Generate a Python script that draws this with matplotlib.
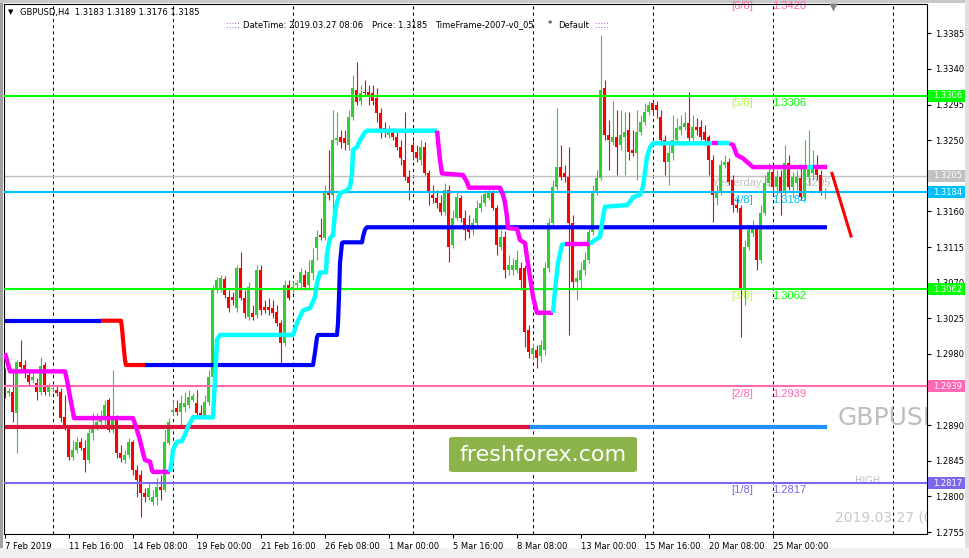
import numpy as np
import matplotlib.pyplot as plt
import matplotlib.transforms as mtransforms
from matplotlib.patches import Rectangle, FancyBboxPatch

# GBPUSD H4 bars, 7 Feb 2019 00:00 .. 27 Mar 2019 08:00
opens = [
    1.2956, 1.2931, 1.2932, 1.2905, 1.2970, 1.2966, 1.2953, 1.2947, 1.2943, 1.2932,
    1.2966, 1.2932, 1.2936, 1.2934, 1.2932, 1.2900, 1.2885, 1.2850, 1.2859, 1.2869,
    1.2861, 1.2846, 1.2880, 1.2890, 1.2894, 1.2897, 1.2922, 1.2884, 1.2897, 1.2855,
    1.2846, 1.2852, 1.2869, 1.2833, 1.2827, 1.2804, 1.2799, 1.2793, 1.2799, 1.2812,
    1.2808, 1.2868, 1.2907, 1.2912, 1.2907, 1.2913, 1.2916, 1.2922, 1.2918, 1.2905,
    1.2903, 1.2919, 1.2951, 1.3061, 1.3061, 1.3075, 1.3052, 1.3052, 1.3038, 1.3089,
    1.3051, 1.3027, 1.3032, 1.3029, 1.3086, 1.3039, 1.3039, 1.3038, 1.3033, 1.3019,
    1.2994, 1.3067, 1.3061, 1.3067, 1.3070, 1.3080, 1.3067, 1.3082, 1.3114, 1.3130,
    1.3126, 1.3183, 1.3181, 1.3250, 1.3254, 1.3253, 1.3244, 1.3279, 1.3313, 1.3300,
    1.3311, 1.3311, 1.3310, 1.3303, 1.3284, 1.3265, 1.3256, 1.3259, 1.3254, 1.3241,
    1.3225, 1.3203, 1.3244, 1.3235, 1.3225, 1.3241, 1.3208, 1.3181, 1.3177, 1.3171,
    1.3159, 1.3187, 1.3118, 1.3152, 1.3177, 1.3152, 1.3143, 1.3137, 1.3145, 1.3164,
    1.3171, 1.3177, 1.3183, 1.3164, 1.3115, 1.3128, 1.3086, 1.3086, 1.3086, 1.3089,
    1.3089, 1.3010, 1.2980, 1.2985, 1.2977, 1.2985, 1.3089, 1.3145, 1.3191, 1.3216,
    1.3208, 1.3203, 1.3145, 1.3071, 1.3073, 1.3086, 1.3099, 1.3134, 1.3185, 1.3202,
    1.3316, 1.3256, 1.3248, 1.3254, 1.3244, 1.3254, 1.3263, 1.3238, 1.3234, 1.3260,
    1.3273, 1.3286, 1.3297, 1.3294, 1.3279, 1.3250, 1.3222, 1.3234, 1.3250, 1.3263,
    1.3267, 1.3272, 1.3253, 1.3267, 1.3267, 1.3260, 1.3254, 1.3225, 1.3177, 1.3183,
    1.3219, 1.3222, 1.3200, 1.3168, 1.3164, 1.3061, 1.3115, 1.3133, 1.3139, 1.3099,
    1.3158, 1.3196, 1.3210, 1.3191, 1.3203, 1.3183, 1.3221, 1.3191, 1.3196, 1.3202,
    1.3178, 1.3203, 1.3208, 1.3216, 1.3206, 1.3183,
]
highs = [
    1.2962, 1.2937, 1.2956, 1.2972, 1.2998, 1.2972, 1.2960, 1.2956, 1.2950, 1.2976,
    1.2970, 1.2943, 1.2942, 1.2939, 1.2937, 1.2928, 1.2890, 1.2871, 1.2875, 1.2874,
    1.2871, 1.2886, 1.2905, 1.2905, 1.2909, 1.2922, 1.2924, 1.2960, 1.2903, 1.2865,
    1.2859, 1.2874, 1.2871, 1.2840, 1.2833, 1.2811, 1.2818, 1.2808, 1.2823, 1.2827,
    1.2884, 1.2899, 1.2922, 1.2922, 1.2928, 1.2932, 1.2934, 1.2931, 1.2934, 1.2916,
    1.2928, 1.2960, 1.3067, 1.3077, 1.3080, 1.3078, 1.3061, 1.3058, 1.3092, 1.3109,
    1.3061, 1.3071, 1.3042, 1.3092, 1.3092, 1.3048, 1.3051, 1.3048, 1.3042, 1.3023,
    1.3073, 1.3073, 1.3071, 1.3073, 1.3089, 1.3086, 1.3099, 1.3114, 1.3137, 1.3152,
    1.3193, 1.3238, 1.3288, 1.3286, 1.3263, 1.3263, 1.3288, 1.3332, 1.3349, 1.3320,
    1.3326, 1.3320, 1.3320, 1.3316, 1.3291, 1.3273, 1.3269, 1.3265, 1.3263, 1.3250,
    1.3286, 1.3212, 1.3250, 1.3244, 1.3250, 1.3248, 1.3212, 1.3193, 1.3187, 1.3181,
    1.3196, 1.3193, 1.3162, 1.3187, 1.3181, 1.3162, 1.3155, 1.3152, 1.3174, 1.3181,
    1.3187, 1.3190, 1.3187, 1.3168, 1.3137, 1.3135, 1.3105, 1.3101, 1.3111, 1.3096,
    1.3092, 1.3017, 1.2994, 1.2991, 1.2998, 1.3096, 1.3152, 1.3200, 1.3291, 1.3244,
    1.3219, 1.3241, 1.3155, 1.3086, 1.3096, 1.3109, 1.3143, 1.3193, 1.3212, 1.3383,
    1.3326, 1.3275, 1.3300, 1.3288, 1.3288, 1.3286, 1.3286, 1.3263, 1.3288, 1.3282,
    1.3297, 1.3300, 1.3300, 1.3300, 1.3288, 1.3256, 1.3244, 1.3282, 1.3278, 1.3282,
    1.3286, 1.3311, 1.3282, 1.3278, 1.3275, 1.3269, 1.3256, 1.3231, 1.3193, 1.3225,
    1.3231, 1.3227, 1.3206, 1.3177, 1.3168, 1.3124, 1.3143, 1.3149, 1.3143, 1.3168,
    1.3206, 1.3221, 1.3215, 1.3212, 1.3212, 1.3244, 1.3231, 1.3210, 1.3212, 1.3219,
    1.3250, 1.3263, 1.3238, 1.3231, 1.3212, 1.3189,
]
lows = [
    1.2924, 1.2927, 1.2894, 1.2855, 1.2957, 1.2950, 1.2941, 1.2943, 1.2922, 1.2928,
    1.2928, 1.2927, 1.2932, 1.2927, 1.2894, 1.2884, 1.2846, 1.2846, 1.2855, 1.2859,
    1.2831, 1.2842, 1.2871, 1.2884, 1.2886, 1.2890, 1.2881, 1.2880, 1.2849, 1.2844,
    1.2842, 1.2849, 1.2827, 1.2799, 1.2774, 1.2793, 1.2796, 1.2789, 1.2789, 1.2796,
    1.2806, 1.2865, 1.2903, 1.2903, 1.2890, 1.2907, 1.2912, 1.2919, 1.2902, 1.2899,
    1.2900, 1.2916, 1.2947, 1.3057, 1.3058, 1.3051, 1.3033, 1.3042, 1.3033, 1.3048,
    1.3025, 1.3023, 1.3023, 1.3025, 1.3029, 1.3032, 1.3029, 1.3025, 1.3015, 1.2969,
    1.2990, 1.3048, 1.3057, 1.3063, 1.3061, 1.3061, 1.3061, 1.3073, 1.3099, 1.3124,
    1.3124, 1.3174, 1.3137, 1.3244, 1.3240, 1.3238, 1.3238, 1.3275, 1.3294, 1.3294,
    1.3306, 1.3294, 1.3294, 1.3273, 1.3253, 1.3254, 1.3253, 1.3250, 1.3238, 1.3219,
    1.3200, 1.3174, 1.3225, 1.3222, 1.3219, 1.3206, 1.3168, 1.3171, 1.3164, 1.3155,
    1.3155, 1.3096, 1.3114, 1.3149, 1.3147, 1.3124, 1.3126, 1.3130, 1.3139, 1.3159,
    1.3167, 1.3174, 1.3162, 1.3105, 1.3111, 1.3076, 1.3080, 1.3080, 1.3082, 1.3061,
    1.2989, 1.2975, 1.2972, 1.2962, 1.2970, 1.2979, 1.3083, 1.3142, 1.3187, 1.3200,
    1.3197, 1.3004, 1.3061, 1.3048, 1.3063, 1.3080, 1.3095, 1.3130, 1.3181, 1.3200,
    1.3250, 1.3212, 1.3244, 1.3206, 1.3238, 1.3206, 1.3225, 1.3230, 1.3200, 1.3256,
    1.3269, 1.3282, 1.3282, 1.3278, 1.3244, 1.3206, 1.3193, 1.3225, 1.3244, 1.3256,
    1.3263, 1.3248, 1.3250, 1.3256, 1.3250, 1.3244, 1.3206, 1.3147, 1.3168, 1.3181,
    1.3215, 1.3193, 1.3159, 1.3159, 1.3001, 1.3042, 1.3111, 1.3128, 1.3086, 1.3095,
    1.3155, 1.3192, 1.3181, 1.3181, 1.3155, 1.3181, 1.3187, 1.3177, 1.3187, 1.3174,
    1.3174, 1.3193, 1.3200, 1.3200, 1.3181, 1.3176,
]
closes = [
    1.2931, 1.2933, 1.2907, 1.2970, 1.2963, 1.2957, 1.2945, 1.2951, 1.2932, 1.2965,
    1.2932, 1.2938, 1.2937, 1.2931, 1.2899, 1.2890, 1.2850, 1.2859, 1.2869, 1.2861,
    1.2846, 1.2880, 1.2886, 1.2894, 1.2900, 1.2916, 1.2884, 1.2897, 1.2855, 1.2849,
    1.2852, 1.2869, 1.2833, 1.2821, 1.2804, 1.2799, 1.2811, 1.2799, 1.2812, 1.2808,
    1.2869, 1.2894, 1.2909, 1.2907, 1.2918, 1.2918, 1.2926, 1.2927, 1.2905, 1.2903,
    1.2919, 1.2951, 1.3061, 1.3073, 1.3076, 1.3054, 1.3038, 1.3048, 1.3089, 1.3051,
    1.3032, 1.3065, 1.3027, 1.3086, 1.3035, 1.3035, 1.3035, 1.3032, 1.3019, 1.2994,
    1.3067, 1.3051, 1.3065, 1.3070, 1.3083, 1.3065, 1.3083, 1.3099, 1.3128, 1.3128,
    1.3183, 1.3181, 1.3250, 1.3253, 1.3248, 1.3246, 1.3279, 1.3316, 1.3298, 1.3310,
    1.3310, 1.3304, 1.3300, 1.3284, 1.3263, 1.3260, 1.3263, 1.3254, 1.3241, 1.3227,
    1.3203, 1.3196, 1.3235, 1.3227, 1.3241, 1.3208, 1.3183, 1.3177, 1.3171, 1.3159,
    1.3187, 1.3115, 1.3152, 1.3178, 1.3152, 1.3137, 1.3134, 1.3145, 1.3164, 1.3171,
    1.3182, 1.3183, 1.3164, 1.3118, 1.3128, 1.3086, 1.3092, 1.3092, 1.3099, 1.3073,
    1.3008, 1.2982, 1.2987, 1.2975, 1.2991, 1.3089, 1.3145, 1.3191, 1.3216, 1.3203,
    1.3203, 1.3145, 1.3071, 1.3076, 1.3086, 1.3099, 1.3134, 1.3185, 1.3202, 1.3313,
    1.3256, 1.3250, 1.3254, 1.3241, 1.3256, 1.3260, 1.3235, 1.3234, 1.3260, 1.3273,
    1.3286, 1.3294, 1.3288, 1.3288, 1.3250, 1.3222, 1.3234, 1.3250, 1.3265, 1.3268,
    1.3272, 1.3253, 1.3267, 1.3263, 1.3254, 1.3250, 1.3225, 1.3181, 1.3183, 1.3219,
    1.3222, 1.3197, 1.3168, 1.3164, 1.3061, 1.3115, 1.3137, 1.3139, 1.3099, 1.3158,
    1.3196, 1.3210, 1.3191, 1.3203, 1.3183, 1.3221, 1.3191, 1.3203, 1.3203, 1.3178,
    1.3216, 1.3219, 1.3216, 1.3206, 1.3183, 1.3185,
]

date_labels = ["7 Feb 2019", "11 Feb 16:00", "14 Feb 08:00", "19 Feb 00:00",
               "21 Feb 16:00", "26 Feb 08:00", "1 Mar 00:00", "5 Mar 16:00",
               "8 Mar 08:00", "13 Mar 00:00", "15 Mar 16:00", "20 Mar 08:00",
               "25 Mar 00:00"]
date_label_bars = [0, 16, 32, 48, 64, 80, 96, 112, 128, 144, 160, 176, 192]
week_start_bars = [12, 42, 72, 102, 132, 162, 192, 222]

price_ticks = [1.2755, 1.2800, 1.2845, 1.2890, 1.2935, 1.2980, 1.3025, 1.3070,
               1.3115, 1.3160, 1.3205, 1.3250, 1.3295, 1.3340, 1.3385]
# these two sit right under the coloured price boxes
hidden_ticks = [1.2935, 1.3205]

# Murrey math levels
mm_levels = [1.3428, 1.3306, 1.3184, 1.3062, 1.2939, 1.2817]
mm_names = ["[6/8]", "[5/8]", "[4/8]", "[3/8]", "[2/8]", "[1/8]"]
mm_colors = ["#FF69B4", "#00FF00", "#00BFFF", "#00FF00", "#FF69B4", "#7B68EE"]
mm_name_colors = ["#FF69B4", "#ADFF2F", "#00BFFF", "#ADFF2F", "#FF69B4", "#7B68EE"]
yesterday_close = 1.3205

# price boxes on the right scale
box_vals = [1.3306, 1.3205, 1.3184, 1.3062, 1.2939, 1.2817]
box_colors = ["#00FF00", "#C0C0C0", "#00BFFF", "#00FF00", "#FF69B4", "#7B68EE"]

# blue / red stop line (code = colour of segment ending at the point)
stop_bars = [0, 24, 29, 29.25, 29.5, 29.75, 30, 30.25, 35, 77, 77.5, 78, 78.25,
             83, 83.25, 83.5, 83.75, 84.25, 84.5, 89.25, 89.5, 90, 90.5, 205.5]
stop_vals = [1.3022, 1.3022, 1.3022, 1.3013, 1.2998, 1.2985, 1.2972, 1.2966, 1.2966,
             1.2966, 1.2982, 1.3001, 1.3004, 1.3004, 1.3019, 1.3052, 1.3095, 1.3120,
             1.3121, 1.3121, 1.3128, 1.3137, 1.3140, 1.3140]
stop_codes = "-brrrrrrrbbbbbbbbbbbbbbb"

# magenta / cyan trailing line
mc_bars = [0, 1.25, 15, 15.5, 16.25, 16.75, 17.25, 32, 33, 33.75, 34.5, 35, 36.25, 36.75,
           37, 41.25, 41.75, 42, 43, 44.25, 45, 45.75, 47, 52, 52.5, 53, 53.75, 72, 73,
           74.5, 76.25, 77.5, 78, 78.75, 80.25, 80.5, 81.25, 82, 82.5, 83, 83.75, 85.5,
           86.25, 86.75, 87, 88, 88.75, 90, 90.5, 108, 108.75, 109.25, 114.5, 115.5, 116,
           123.75, 124.5, 125, 125.5, 125.75, 128, 128.75, 130, 130.5, 131.75, 132, 133,
           137, 137.5, 138.25, 139.25, 140, 146.25, 147.5, 148.75, 149.5, 150, 155.5,
           156.25, 157, 158.75, 159.5, 160.5, 161.25, 162, 176.75, 178.25, 181.25, 182,
           183, 184.5, 187, 200.5, 202, 205.5]
mc_vals = [1.2981, 1.2958, 1.2958, 1.2947, 1.2926, 1.2913, 1.2899, 1.2899, 1.2884, 1.2871,
           1.2855, 1.2846, 1.2844, 1.2833, 1.2831, 1.2831, 1.2846, 1.2859, 1.2869, 1.2870,
           1.2878, 1.2888, 1.2900, 1.2900, 1.2947, 1.2998, 1.3004, 1.3004, 1.3019, 1.3035,
           1.3038, 1.3052, 1.3070, 1.3083, 1.3083, 1.3107, 1.3126, 1.3130, 1.3158, 1.3172,
           1.3183, 1.3187, 1.3191, 1.3208, 1.3238, 1.3241, 1.3250, 1.3260, 1.3262, 1.3262,
           1.3225, 1.3208, 1.3206, 1.3197, 1.3190, 1.3190, 1.3181, 1.3171, 1.3153, 1.3139,
           1.3138, 1.3124, 1.3120, 1.3102, 1.3061, 1.3052, 1.3032, 1.3032, 1.3061, 1.3095,
           1.3118, 1.3119, 1.3119, 1.3124, 1.3128, 1.3153, 1.3166, 1.3168, 1.3172, 1.3178,
           1.3181, 1.3191, 1.3229, 1.3241, 1.3246, 1.3246, 1.3246, 1.3246, 1.3244, 1.3231,
           1.3227, 1.3216, 1.3216, 1.3216, 1.3216]
mc_codes = ("-" + "m" * 15 + "c" * 34 + "m" * 18 + "c" * 4 + "m" + "c" * 13
            + "m" + "c" + "m" * 5 + "c" + "m")

level_line = 1.2888
level_split_bar = 131.25
level_end_bar = 205.5

arrow_bars = [206.75, 211.5]
arrow_vals = [1.3208, 1.3129]

assert len(opens) == len(highs) == len(lows) == len(closes)
assert len(stop_bars) == len(stop_vals) == len(stop_codes)
assert len(mc_bars) == len(mc_vals) == len(mc_codes)

W, H = 970, 558
fig = plt.figure(figsize=(W / 100, H / 100), dpi=100)
fig.patch.set_facecolor("white")


def px(x, y):
    return x / W, 1 - y / H


# window frame
for (x0, y0, w, h, c) in [(0, 0, 3, H, "#A0A0A0"), (0, 0, W, 3, "#C8C8C8"),
                          (0, 548, W, 10, "#F0F0F0"), (965, 0, 5, 548, "#E0E0E0")]:
    fig.add_artist(Rectangle((x0 / W, 1 - (y0 + h) / H), w / W, h / H,
                             transform=fig.transFigure, fc=c, ec="none", zorder=-5))

ax = fig.add_axes([4 / W, (H - 534) / H, (927 - 4) / W, (534 - 4) / H])
ax.set_xlim(-0.25, 230.5)
ax.set_ylim(1.27526, 1.3422)
for s in ax.spines.values():
    s.set_color("black")
    s.set_linewidth(0.8)

ax.yaxis.tick_right()
ax.set_yticks(price_ticks)
ax.set_yticklabels(["" if v in hidden_ticks else f"{v:.4f}" for v in price_ticks])
ax.tick_params(axis="y", labelsize=6, length=3, width=0.8, pad=3)
ax.set_xticks(date_label_bars)
ax.set_xticklabels(date_labels, ha="left")
ax.tick_params(axis="x", labelsize=6, length=3, width=0.8, pad=2.5)

for b in week_start_bars:
    ax.axvline(b, color="black", lw=0.75, ls=(0, (3, 3)), zorder=0.5)

# yesterday close
ax.axhline(yesterday_close, color="#C0C0C0", lw=1.0, zorder=1)
ax.annotate(f"Yesterday Close {yesterday_close:.4f}", xy=(176.75, yesterday_close),
            xytext=(0, -1.5), textcoords="offset points", va="top", ha="left",
            color="#C0C0C0", fontsize=8, family="Liberation Sans", zorder=1)

# candles
x = np.arange(len(opens))
o = np.array(opens)
hi = np.array(highs)
lo = np.array(lows)
c = np.array(closes)
up = c >= o
cols = np.where(up, "#32CD32", "#FF0000")
ax.vlines(x, lo, hi, colors=cols, lw=0.8, zorder=2)
body = np.maximum(np.abs(c - o), 0.00013)
ax.bar(x, body, bottom=np.minimum(o, c), width=0.75, color=cols, lw=0, zorder=2.5)

# murrey math lines
for lv, nm, col, ncol in zip(mm_levels, mm_names, mm_colors, mm_name_colors):
    ax.axhline(lv, color=col, lw=1.5, zorder=3)
    ax.annotate(nm, xy=(181.5, lv), xytext=(0, -1.5), textcoords="offset points",
                va="top", ha="left", color=ncol, fontsize=8,
                family="Liberation Sans", zorder=1, annotation_clip=False)
    ax.annotate(f"{lv:.4f}", xy=(191.75, lv), xytext=(0, -1.5), textcoords="offset points",
                va="top", ha="left", color=col, fontsize=8,
                family="Liberation Sans", zorder=1, annotation_clip=False)

# level line crimson / dodger blue
ax.plot([0, level_split_bar], [level_line, level_line], color="#DC143C", lw=3,
        solid_capstyle="butt", zorder=4)
ax.plot([level_split_bar, level_end_bar], [level_line, level_line], color="#1E90FF",
        lw=3, solid_capstyle="butt", zorder=4)


def draw_colored(bars, vals, codes, palette, lw, z):
    k = 1
    n = len(bars)
    while k < n:
        j = k
        while j + 1 < n and codes[j + 1] == codes[k]:
            j += 1
        ax.plot(bars[k - 1:j + 1], vals[k - 1:j + 1], color=palette[codes[k]], lw=lw,
                solid_capstyle="butt", solid_joinstyle="round", zorder=z)
        k = j + 1


draw_colored(stop_bars, stop_vals, stop_codes, {"b": "#0000FF", "r": "#FF0000"}, 3, 4)
draw_colored(mc_bars, mc_vals, mc_codes, {"m": "#FF00FF", "c": "#00FFFF"}, 3.2, 4.5)

# forecast stroke
ax.plot(arrow_bars, arrow_vals, color="#FF0000", lw=2.2, zorder=5)

# right side texts (clipped by the chart)
ax.text(208.25, 1.2899, "GBPUSD", color="#BEBEBE", fontsize=18, va="center",
        ha="left", clip_on=True, zorder=1)
ax.text(212.5, 1.2819, "HIGH", color="#C0C0C0", fontsize=7, va="center", ha="left",
        clip_on=True, zorder=1)
ax.text(207.5, 1.2773, "2019.03.27 (08:06)", color="#C8C8C8", fontsize=10, va="center",
        ha="left", clip_on=True, zorder=1)

# price boxes
bt = mtransforms.blended_transform_factory(ax.transAxes, ax.transData)
bh = 12 / 530 * (1.3422 - 1.27526)
for v, col in zip(box_vals, box_colors):
    ax.add_patch(Rectangle((1 + 1 / 923, v - bh / 2), 37 / 923, bh, transform=bt,
                           fc=col, ec="none", clip_on=False, zorder=6))
    ax.text(1 + 6 / 923, v, f"{v:.4f}", transform=bt, color="white", fontsize=6,
            va="center", ha="left", clip_on=False, zorder=7)

# chart shift marker
tt = mtransforms.blended_transform_factory(ax.transData, ax.transAxes)
ax.plot([207], [1 - 2.5 / 530], marker="v", ms=6, color="#808080", mec="none",
        transform=tt, clip_on=False, zorder=6)

# header
fig.text(*px(8, 12), "\u25BC", fontsize=5, va="center", ha="left")
fig.text(*px(20, 12), "GBPUSD,H4  1.3183 1.3189 1.3176 1.3185", fontsize=6, va="center")
fig.text(*px(226, 25), ":::::", fontsize=6, va="center", color="#8000A0")
fig.text(*px(243, 25), "DateTime: 2019.03.27 08:06", fontsize=6, va="center")
fig.text(*px(372, 25), "Price: 1.3185", fontsize=6, va="center")
fig.text(*px(435, 25), "TimeFrame-2007-v0_05", fontsize=6, va="center")
fig.text(*px(548, 25), "*", fontsize=6, va="center")
fig.text(*px(558, 25), "Default", fontsize=6, va="center")
fig.text(*px(595, 25), ":::::", fontsize=6, va="center", color="#8000A0")

# watermark
fig.add_artist(FancyBboxPatch((449 / W, 1 - 472 / H), 188 / W, 35 / H,
                              boxstyle="round,pad=0,rounding_size=0.004",
                              transform=fig.transFigure, fc="#8DB34B", ec="none",
                              zorder=10))
fig.text(*px(543, 455), "freshforex.com", fontsize=16, color="white", ha="center",
         va="center", zorder=11)

fig.savefig("out.png", dpi=100)
